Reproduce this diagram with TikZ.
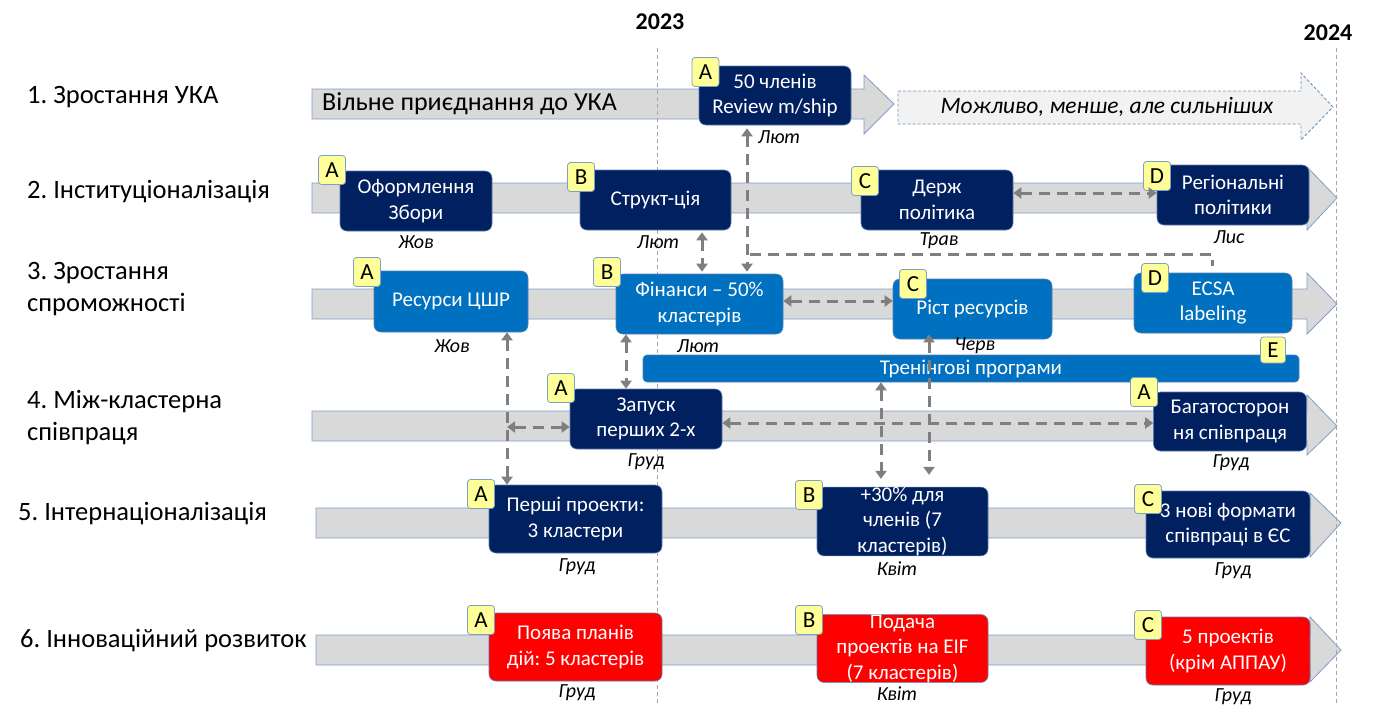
\documentclass[tikz,border=0pt]{standalone}
\usepackage{fontspec}
\setmainfont{Carlito}
\usetikzlibrary{arrows.meta}
\frenchspacing
\definecolor{navyc}{HTML}{002060}
\definecolor{bluec}{HTML}{0070C0}
\definecolor{redc}{HTML}{FF0000}
\definecolor{barfill}{HTML}{D9D9D9}
\definecolor{barline}{HTML}{7F9FC8}
\definecolor{badgefill}{HTML}{FFFF99}
\definecolor{badgeline}{HTML}{7F9FC0}
\definecolor{boxline}{HTML}{5A7DB0}
\definecolor{conncol}{HTML}{7F7F7F}
\definecolor{yearline}{HTML}{A6A6A6}
\definecolor{ghostfill}{HTML}{F2F2F2}
\definecolor{ghostline}{HTML}{6F93BF}
\newcommand\lblfont{\fontsize{26.5}{32}\selectfont}
\newcommand\bxfont{\fontsize{21}{25.5}\selectfont}
\newcommand\mnfont{\fontsize{20}{22}\selectfont\itshape}
\newcommand\bdgfont{\fontsize{23}{24}\selectfont}
\newcommand\barfont{\fontsize{26}{28}\selectfont}
\newcommand\yrfont{\fontsize{24}{28}\selectfont\bfseries}
\newcommand\rowbar[8]{%
  \draw[bar] (#1,#2) -- (#4,#2) -- (#4,#5) -- (#7,#8) -- (#4,#6) -- (#4,#3) -- (#1,#3) -- cycle;}
\tikzset{
  bar/.style={fill=barfill, draw=barline, line width=0.8pt},
  boxbase/.style={rounded corners=7pt, text=white, align=center, font=\bxfont,
    inner sep=0pt, draw=boxline, line width=0.6pt},
  navybox/.style={boxbase, fill=navyc},
  bluebox/.style={boxbase, fill=bluec},
  redbox/.style={boxbase, fill=redc},
  badge/.style={fill=badgefill, draw=badgeline, line width=0.8pt, rounded corners=3pt,
    minimum width=27pt, minimum height=29pt, inner sep=0pt, font=\bdgfont},
  month/.style={font=\mnfont, inner sep=0pt},
  rowlabel/.style={anchor=west, font=\lblfont, align=left, inner sep=0pt},
  yearmark/.style={draw=yearline, line width=0.8pt, dash pattern=on 4pt off 3pt},
  conn/.style={draw=conncol, line width=3pt, dash pattern=on 11pt off 7pt},
  dbl/.style={conn, {Triangle[length=8pt,width=11pt]}-{Triangle[length=8pt,width=11pt]}},
}
\begin{document}
\begin{tikzpicture}[x=1pt,y=-1pt]
\useasboundingbox (0,0) rectangle (1377,705);

% row labels
\node[rowlabel] (l1) at (27,97) {1. Зростання УКА};
\node[rowlabel] (l2) at (27,192) {2. Інституціоналізація};
\node[rowlabel] (l3) at (27,289) {3. Зростання\\спроможності};
\node[rowlabel] (l4) at (27,418) {4. Між-кластерна\\співпраця};
\node[rowlabel] (l5) at (18,514) {5. Інтернаціоналізація};
\node[rowlabel] (l6) at (20,641) {6. Інноваційний розвиток};

% years
\node[font=\yrfont] (y23) at (660,22) {2023};
\node[font=\yrfont] (y24) at (1328,33) {2024};

% bars
\rowbar{312}{89}{119}{864}{75}{134}{894}{104}
\rowbar{312}{183}{213}{1307}{167}{230}{1337}{198}
\rowbar{312}{289}{319}{1307}{273}{334}{1337}{304}
\rowbar{312}{411}{441}{1307}{395}{455}{1337}{426}
\rowbar{316}{508}{538}{1310}{493}{557}{1341}{523}
\rowbar{316}{635}{665}{1310}{617}{682}{1341}{650}
\node[font=\barfont, anchor=west, inner sep=0pt] (t1) at (322,104) {Вільне приєднання до УКА};

% ghost arrow
\draw[fill=ghostfill, draw=ghostline, line width=0.9pt, dash pattern=on 3pt off 2pt]
  (898,91) -- (1301,91) -- (1301,73) -- (1333,107) -- (1301,140) -- (1301,124) -- (898,124) -- cycle;
\node[font=\fontsize{23.5}{26}\selectfont\itshape] (gh) at (1107,107) {Можливо, менше, але сильніших};

% year lines
\draw[yearmark] (657,48) -- (657,705);
\draw[yearmark] (1336,48) -- (1336,705);

% row 1
\node[navybox, minimum width=152pt, minimum height=59pt] (r1a) at (775,95.5) {50 членів\\Review m/ship};
\node[month] (m1a) at (779,137) {Лют};

% row 2
\node[navybox, minimum width=152pt, minimum height=60pt] (r2a) at (416,201) {Оформлення\\Збори};
\node[navybox, minimum width=151pt, minimum height=60pt] (r2b) at (655.5,200) {Структ-ція};
\node[navybox, minimum width=152pt, minimum height=60pt] (r2c) at (937,200) {Держ\\політика};
\node[navybox, minimum width=152pt, minimum height=60pt] (r2d) at (1233,195) {Регіональні\\політики};
\node[month] (m2a) at (416,242) {Жов};
\node[month] (m2b) at (658,242) {Лют};
\node[month] (m2c) at (939,241) {Трав};
\node[month] (m2d) at (1229,237) {Лис};

% row 3
\node[bluebox, minimum width=154pt, minimum height=61pt] (r3a) at (451,301.5) {Ресурси ЦШР};
\node[bluebox, minimum width=167pt, minimum height=60pt] (r3b) at (699.5,304) {Фінанси -- 50\%\\кластерів};
\node[bluebox, minimum width=159pt, minimum height=60pt] (r3c) at (972.5,309) {Ріст ресурсів};
\node[bluebox, minimum width=158pt, minimum height=60pt] (r3d) at (1213,303) {ECSA\\labeling};
\node[month] (m3a) at (452,346) {Жов};
\node[month] (m3b) at (698,346) {Лют};
\node[month] (m3c) at (975,346) {Черв};
\node[bluebox, rounded corners=4pt, minimum width=656pt, minimum height=27pt] (r3e) at (971,368.5) {Тренінгові програми};

% row 4
\node[navybox, minimum width=152pt, minimum height=60pt] (r4a) at (646,419) {Запуск\\перших 2-х};
\node[navybox, minimum width=153pt, minimum height=59pt] (r4b) at (1230,421.5) {Багатосторон\\ня співпраця};
\node[month] (m4a) at (646,462) {Груд};
\node[month] (m4b) at (1231,463) {Груд};

% row 5
\node[navybox, minimum width=173pt, minimum height=68pt] (r5a) at (575.5,519) {Перші проекти:\\3 кластери};
\node[navybox, minimum width=171pt, minimum height=67pt] (r5b) at (902.5,521.5) {+30\% для\\членів (7\\кластерів)};
\node[navybox, minimum width=164pt, minimum height=67pt] (r5c) at (1228,524.5) {3 нові формати\\співпраці в ЄС};
\node[month] (m5a) at (577,567) {Груд};
\node[month] (m5b) at (897,569) {Квіт};
\node[month] (m5c) at (1233,571) {Груд};

% row 6
\node[redbox, minimum width=173pt, minimum height=68pt] (r6a) at (575.5,647) {Поява планів\\дій: 5 кластерів};
\node[redbox, minimum width=171pt, minimum height=67pt] (r6b) at (902.5,648.5) {Подача\\проектів на EIF\\(7 кластерів)};
\node[redbox, minimum width=164pt, minimum height=68pt] (r6c) at (1228,651) {5 проектів\\(крім АППАУ)};
\node[month] (m6a) at (577,693) {Груд};
\node[month] (m6b) at (897,694) {Квіт};
\node[month] (m6c) at (1233,697) {Груд};

% badges
\node[badge] (b1a) at (705.5,72) {A};
\node[badge] (b2a) at (332,170) {A};
\node[badge] (b2b) at (581,177) {B};
\node[badge] (b2c) at (865,181) {C};
\node[badge] (b2d) at (1157,176) {D};
\node[badge] (b3a) at (367,272) {A};
\node[badge] (b3b) at (607,272) {B};
\node[badge] (b3c) at (913,284) {C};
\node[badge] (b3d) at (1155,278) {D};
\node[badge, minimum width=25pt, minimum height=26pt] (b3e) at (1273,350) {E};
\node[badge] (b4a) at (561,388) {A};
\node[badge] (b4b) at (1144,392) {A};
\node[badge] (b5a) at (481,494) {A};
\node[badge] (b5b) at (809,495) {B};
\node[badge] (b5c) at (1148,499) {C};
\node[badge] (b6a) at (481,620) {A};
\node[badge] (b6b) at (809,620) {B};
\node[badge] (b6c) at (1148,625) {C};

% connector helper coordinates
\coordinate (x507) at (507,0);
\coordinate (x626) at (626,0);
\coordinate (x702) at (702,0);
\coordinate (x747) at (747,0);
\coordinate (x881) at (881,0);
\coordinate (x929) at (929,0);
\coordinate (x1212) at (1212,0);
\coordinate (h193) at (0,193);
\coordinate (h301) at (0,301);
\coordinate (h423) at (0,423);
\coordinate (h427) at (0,427);
\coordinate (j1) at (750,254);

% connectors
\draw[dbl] ([yshift=-3pt]r1a.south -| x747) -- ([yshift=2pt]r3b.north -| x747);
\draw[conn] (j1) -| ([yshift=7pt]r3d.north -| x1212);
\draw[dbl] ([yshift=-2pt]r2b.south -| x702) -- ([yshift=2pt]r3b.north -| x702);
\draw[dbl] (r3b.south -| x626) -- (r4a.north -| x626);
\draw[dbl] (r3a.south -| x507) -- (r5a.north -| x507);
\draw[dbl] (x507 |- h427) -- (r4a.west |- h427);
\draw[dbl] (r4a.east |- h423) -- (r4b.west |- h423);
\draw[dbl] (r3e.south -| x881) -- ([yshift=8pt]r5b.north -| x881);
\draw[dbl] ([yshift=5pt]r3c.south -| x929) -- ([yshift=12pt]r5b.north -| x929);
\draw[dbl] (r3b.east |- h301) -- (r3c.west |- h301);
\draw[dbl] (r2c.east |- h193) -- (r2d.west |- h193);
\end{tikzpicture}
\end{document}
